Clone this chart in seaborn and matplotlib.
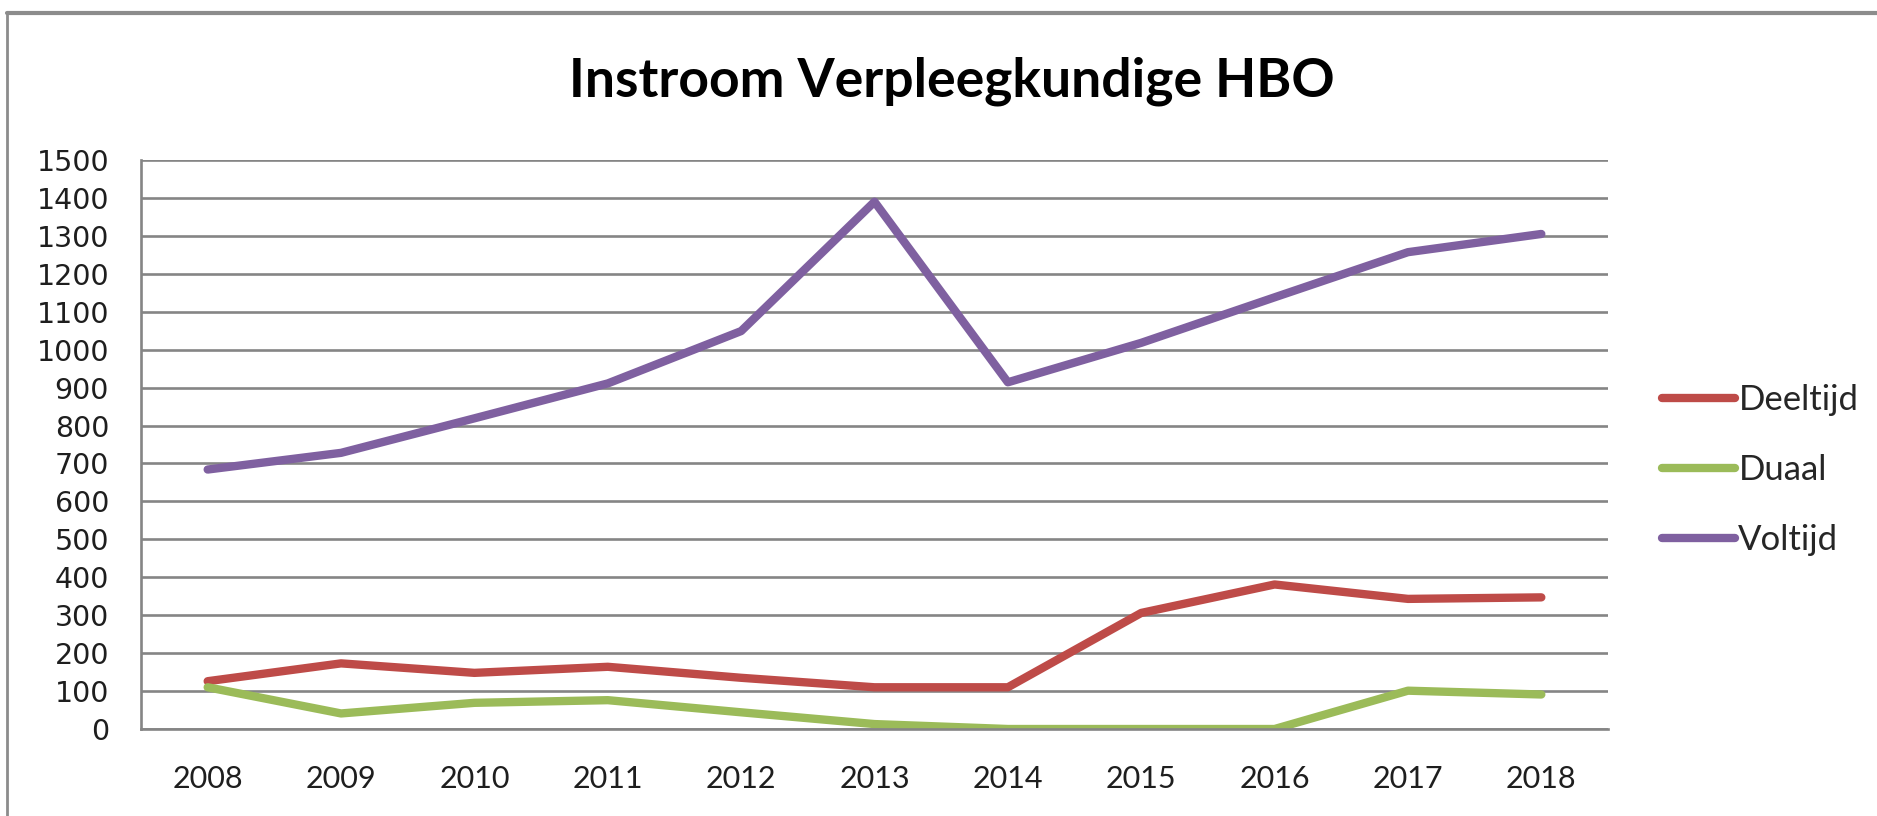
import matplotlib
matplotlib.use("Agg")
import matplotlib.pyplot as plt
import seaborn as sns
import pandas as pd
from matplotlib.lines import Line2D

years = [2008, 2009, 2010, 2011, 2012, 2013, 2014, 2015, 2016, 2017, 2018]
deeltijd = [126, 173, 148, 164, 135, 110, 110, 306, 381, 343, 347]
duaal = [110, 41, 69, 76, 44, 13, 0, 0, 0, 101, 91]
voltijd = [684, 728, 819, 911, 1049, 1390, 914, 1018, 1138, 1257, 1305]
series_names = ["Deeltijd", "Duaal", "Voltijd"]
colors = ["#BE4B48", "#9BBB59", "#7F60A0"]
title = "Instroom Verpleegkundige HBO"
y_ticks = list(range(0, 1501, 100))

df = pd.concat([
    pd.DataFrame({"Jaar": years, "Instroom": vals, "Serie": name})
    for name, vals in zip(series_names, [deeltijd, duaal, voltijd])
], ignore_index=True)

sns.set_theme(style="white")
plt.rcParams["font.family"] = ["Lato", "DejaVu Sans"]

fig = plt.figure(figsize=(18.77, 8.16), dpi=100)
ax = fig.add_axes([141 / 1877, 1 - 729 / 816, (1608 - 141) / 1877, (729 - 160) / 816])

sns.lineplot(data=df, x="Jaar", y="Instroom", hue="Serie", hue_order=series_names,
             palette=dict(zip(series_names, colors)), linewidth=6,
             ax=ax, legend=False, solid_capstyle="round", solid_joinstyle="round")

ax.set_xlim(years[0] - 0.5, years[-1] + 0.5)
ax.set_ylim(0, 1500)
ax.set_yticks(y_ticks)
ax.set_yticklabels([str(v) for v in y_ticks], fontfamily="DejaVu Sans", fontsize=20.5, color="#1E1E1E")
ax.set_xticks(years)
ax.set_xticklabels([str(y) for y in years], fontfamily="Lato", fontsize=22, color="#1E1E1E")
ax.tick_params(axis="both", length=0)
ax.tick_params(axis="y", pad=23)
ax.tick_params(axis="x", pad=26)
ax.set_xlabel("")
ax.set_ylabel("")

ax.yaxis.grid(True, color="#858585", linewidth=1.9)
ax.xaxis.grid(False)
for s in ["top", "right"]:
    ax.spines[s].set_visible(False)
for s in ["left", "bottom"]:
    ax.spines[s].set_color("#858585")
    ax.spines[s].set_linewidth(1.9)
ax.set_axisbelow(True)

fig.text(952 / 1877, 1 - 81 / 816, title, ha="center", va="center",
         fontsize=38.5, fontweight="bold", fontfamily="Lato", color="#000000")

handles = [Line2D([0], [0], color=c, linewidth=6, solid_capstyle="round") for c in colors]
fig.legend(handles, series_names, loc="center left",
           bbox_to_anchor=(1662 / 1877, 1 - 470 / 816), frameon=False,
           handlelength=2.1, handletextpad=0.1, labelspacing=1.1,
           borderpad=0, borderaxespad=0, prop={"family": "Lato", "size": 25})

# chart frame edges (top and left)
fig.add_artist(Line2D([7 / 1877, 1], [1 - 13 / 816, 1 - 13 / 816], transform=fig.transFigure,
                      color="#8C8C8C", linewidth=3))
fig.add_artist(Line2D([7 / 1877, 7 / 1877], [0, 1 - 13 / 816], transform=fig.transFigure,
                      color="#8C8C8C", linewidth=2))

fig.savefig("out.png", dpi=100)
